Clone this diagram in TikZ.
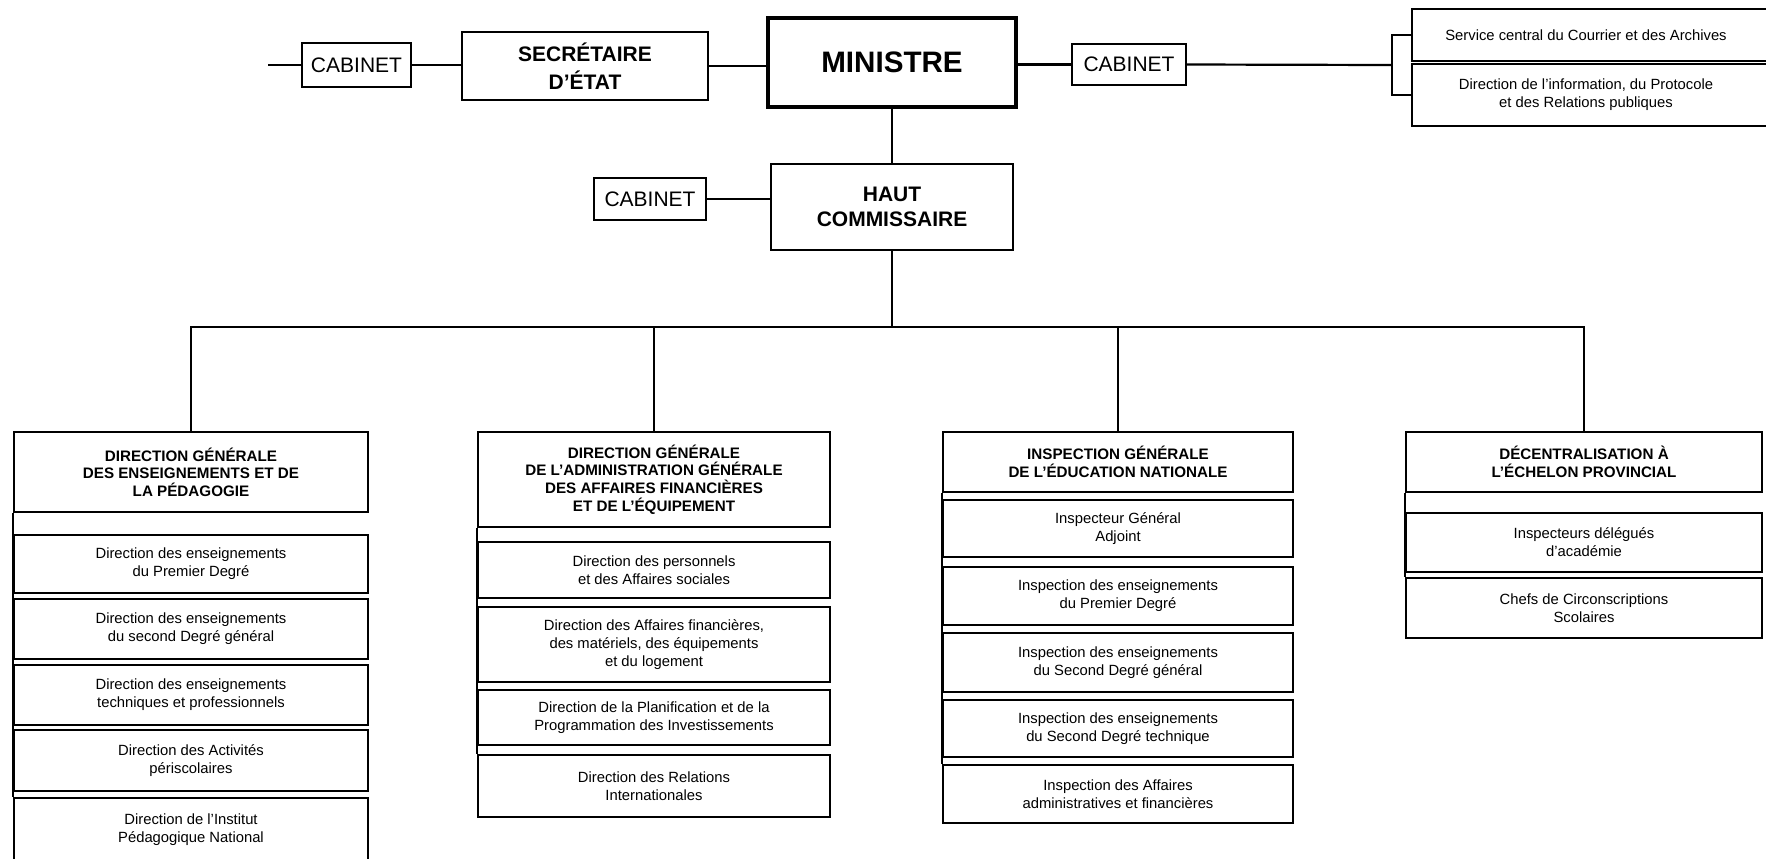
\documentclass[tikz,border=0pt]{standalone}
\usepackage{fontspec}
\setmainfont{Liberation Sans}
\usetikzlibrary{positioning}

\tikzset{
    unit/.style={draw, line width=1.1pt, inner sep=0pt, align=center,
                 font=\fontsize{7.4}{9}\selectfont},
    openunit/.style={unit, draw=none},
    headunit/.style={unit, font=\bfseries\fontsize{7.6}{8.8}\selectfont},
    topunit/.style={draw, line width=1.3pt, inner sep=0pt, align=center,
                    font=\bfseries\fontsize{10.5}{14}\selectfont},
    cabunit/.style={draw, line width=1.2pt, inner sep=0pt,
                    minimum height=21pt, font=\fontsize{10.5}{12}\selectfont},
    link/.style={line width=1.1pt}
}

\begin{document}
\begin{tikzpicture}[x=0.5pt,y=-0.5pt]
    \useasboundingbox (0,0) rectangle (1766,858);

    \node[topunit, line width=1.8pt, minimum width=124pt, minimum height=44.5pt,
          font=\bfseries\fontsize{14.8}{16}\selectfont] (min) at (892,62.5) {MINISTRE};
    \node[topunit, minimum width=123pt, minimum height=34pt] (secr) at (585,66) {SECRÉTAIRE\\D'ÉTAT};
    \node[cabunit, minimum width=54.5pt, minimum height=22pt] (cabA) at (356.5,65) {CABINET};
    \node[cabunit, minimum width=57pt, minimum height=20.5pt] (cabB) at (1129,64.5) {CABINET};
    \node[topunit, minimum width=121pt, minimum height=43pt,
          font=\bfseries\fontsize{10.5}{12.5}\selectfont] (haut) at (892,207) {HAUT\\COMMISSAIRE};
    \node[cabunit, minimum width=56pt] (cabC) at (650,199) {CABINET};
    \node[openunit, minimum width=173pt, minimum height=25pt] (serv) at (1586,35) {Service central du Courrier et des Archives};
    \node[openunit, minimum width=173pt, minimum height=30pt] (info) at (1586,95) {Direction de l'information, du Protocole\\et des Relations publiques};
    \draw[link] ([xshift=10pt]serv.north east) -- (serv.north west) -- (serv.south west) -- ([xshift=10pt]serv.south east);
    \draw[link] ([xshift=10pt]info.north east) -- (info.north west) -- (info.south west) -- ([xshift=10pt]info.south east);

    \coordinate (stub) at (268,65);
    \coordinate (brk) at (1392,65);
    \coordinate (bus) at (892,327);

    \draw[link] (stub) -- (cabA.west);
    \draw[link] (cabA.east) -- (secr.west |- cabA.east);
    \draw[link] (secr.east) -- (secr.east -| min.west);
    \draw[link] (min.east |- cabB.west) -- (cabB.west);
    \draw[link] (cabB.east) -- (brk);
    \draw[link] (serv.west) -| (brk) |- (info.west);
    \draw[link] (min.south) -- (haut.north);
    \draw[link] (cabC.east) -- (cabC.east -| haut.west);

    \node[headunit, minimum width=177pt, minimum height=40pt] (h1) at (191,472) {DIRECTION GÉNÉRALE\\DES ENSEIGNEMENTS ET DE\\LA PÉDAGOGIE};
    \node[unit, minimum width=177pt, minimum height=29pt] (a1) at (191,564) {Direction des enseignements\\du Premier Degré};
    \node[unit, minimum width=177pt, minimum height=30pt] (a2) at (191,629) {Direction des enseignements\\du second Degré général};
    \node[unit, minimum width=177pt, minimum height=30pt] (a3) at (191,695) {Direction des enseignements\\techniques et professionnels};
    \node[unit, minimum width=177pt, minimum height=30.5pt] (a4) at (191,760.5) {Direction des Activités\\périscolaires};
    \node[unit, minimum width=177pt, minimum height=32pt] (a5) at (191,830) {Direction de l'Institut\\Pédagogique National};

    \node[headunit, minimum width=176pt, minimum height=47.5pt] (h2) at (654,479.5) {DIRECTION GÉNÉRALE\\DE L'ADMINISTRATION GÉNÉRALE\\DES AFFAIRES FINANCIÈRES\\ET DE L'ÉQUIPEMENT};
    \node[unit, minimum width=176pt, minimum height=28pt] (b1) at (654,570) {Direction des personnels\\et des Affaires sociales};
    \node[unit, minimum width=176pt, minimum height=37.5pt] (b2) at (654,644.5) {Direction des Affaires financières,\\des matériels, des équipements\\et du logement};
    \node[unit, minimum width=176pt, minimum height=27.5pt] (b3) at (654,717.5) {Direction de la Planification et de la\\Programmation des Investissements};
    \node[unit, minimum width=176pt, minimum height=31pt] (b4) at (654,786) {Direction des Relations\\Internationales};

    \node[headunit, minimum width=175pt, minimum height=30pt] (h3) at (1118,462) {INSPECTION GÉNÉRALE\\DE L'ÉDUCATION NATIONALE};
    \node[unit, minimum width=175pt, minimum height=28.5pt] (c1) at (1118,528.5) {Inspecteur Général\\Adjoint};
    \node[unit, minimum width=175pt, minimum height=29pt] (c2) at (1118,596) {Inspection des enseignements\\du Premier Degré};
    \node[unit, minimum width=175pt, minimum height=29.5pt] (c3) at (1118,662.5) {Inspection des enseignements\\du Second Degré général};
    \node[unit, minimum width=175pt, minimum height=28.5pt] (c4) at (1118,728.5) {Inspection des enseignements\\du Second Degré technique};
    \node[unit, minimum width=175pt, minimum height=29pt] (c5) at (1118,794) {Inspection des Affaires\\administratives et financières};

    \node[headunit, minimum width=178pt, minimum height=30pt] (h4) at (1584,462) {DÉCENTRALISATION À\\L'ÉCHELON PROVINCIAL};
    \node[unit, minimum width=178pt, minimum height=29.5pt] (d1) at (1584,542.5) {Inspecteurs délégués\\d'académie};
    \node[unit, minimum width=178pt, minimum height=30pt] (d2) at (1584,608) {Chefs de Circonscriptions\\Scolaires};

    \draw[link] (haut.south) -- (bus);
    \draw[link] (h1.north) -- (h1.north |- bus) -- (h4.north |- bus) -- (h4.north);
    \draw[link] (h2.north) -- (h2.north |- bus);
    \draw[link] (h3.north) -- (h3.north |- bus);

    \draw[link] (h1.south west) -- (a5.north west);
    \draw[link] (h2.south west) -- (b4.north west);
    \draw[link] (h3.south west) -- (c5.north west);
    \draw[link] (h4.south west) -- (d2.north west);
\end{tikzpicture}
\end{document}
